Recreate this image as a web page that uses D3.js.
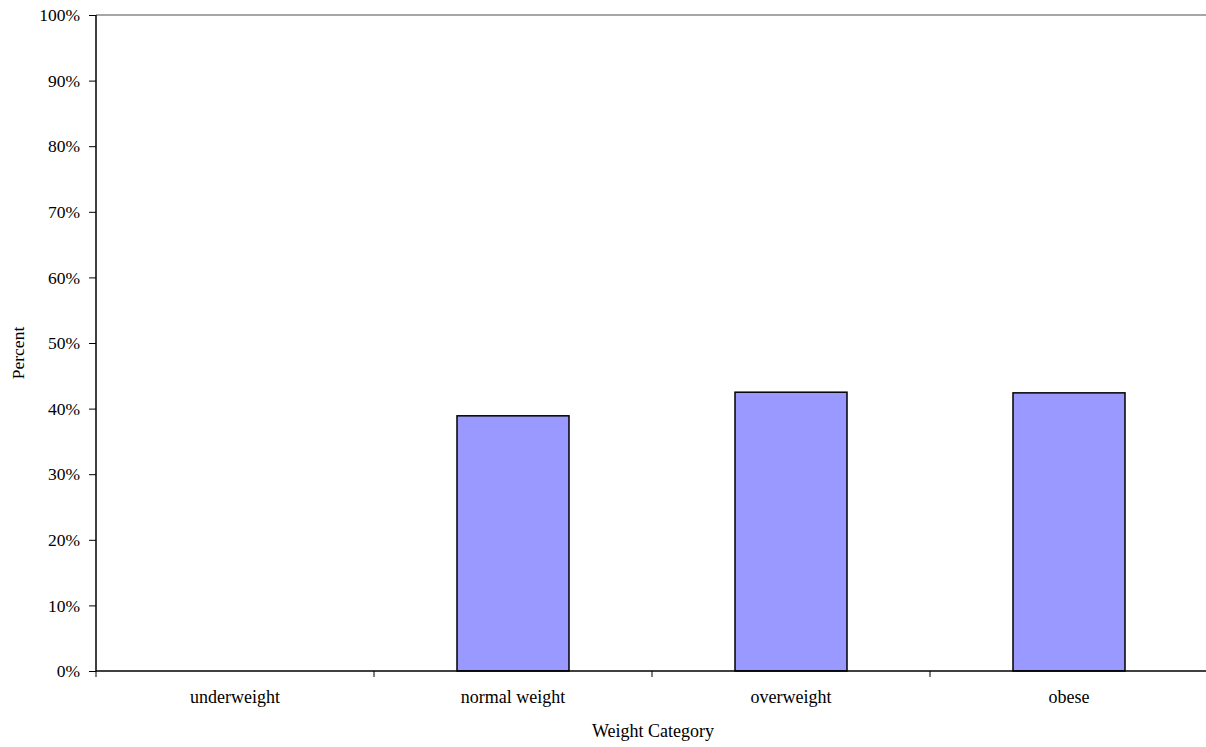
<!DOCTYPE html>
<html>
<head>
<meta charset="utf-8">
<script src="https://cdn.jsdelivr.net/npm/d3@7"></script>
<style>
  body { margin: 0; background: #fff; }
  svg text { font-family: "Times New Roman", "Liberation Serif", "DejaVu Serif", serif !important; fill: #000; }
</style>
</head>
<body>
<script>
// 数据
var categories = ["underweight", "normal weight", "overweight", "obese"];
var percents = [0, 38.9, 42.5, 42.4];
var yTicks = [0, 10, 20, 30, 40, 50, 60, 70, 80, 90, 100];

var width = 1206;
var height = 747;
var padding = { top: 15, right: -2, bottom: 76, left: 96 };
var fontFamily = "'Times New Roman', 'Liberation Serif', 'DejaVu Serif', serif";

var svg = d3.select("body")
  .append("svg")
  .attr("width", width)
  .attr("height", height)
  .attr("font-family", fontFamily);

var x = d3.scaleBand()
  .domain(categories)
  .range([padding.left, width - padding.right])
  .paddingInner(0)
  .paddingOuter(0);

var y = d3.scaleLinear()
  .domain([0, 100])
  .range([height - padding.bottom, padding.top]);

// 顶部灰线
svg.append("line")
  .attr("x1", padding.left)
  .attr("x2", width)
  .attr("y1", y(100))
  .attr("y2", y(100))
  .attr("stroke", "#888")
  .attr("stroke-width", 1.5);

// 柱子
var barWidth = 112;
svg.selectAll("rect.bar")
  .data(percents)
  .enter()
  .append("rect")
  .attr("class", "bar")
  .attr("fill", "#9999ff")
  .attr("stroke", "#000")
  .attr("stroke-width", 1.5)
  .attr("x", function (d, i) {
    return x(categories[i]) + (x.bandwidth() - barWidth) / 2;
  })
  .attr("y", function (d) { return y(d); })
  .attr("width", barWidth)
  .attr("height", function (d) { return y(0) - y(d); })
  .style("display", function (d) { return d > 0 ? null : "none"; });

// y 轴
var yAxis = d3.axisLeft(y)
  .tickValues(yTicks)
  .tickSize(7)
  .tickPadding(9)
  .tickFormat(function (d) { return d + "%"; });

var gy = svg.append("g")
  .attr("transform", "translate(" + padding.left + ",0)")
  .call(yAxis)
  .attr("font-family", fontFamily)
  .attr("font-size", "17.5px");
gy.select(".domain").attr("stroke", "#000").attr("stroke-width", 1.5)
  .attr("d", "M0," + y(0) + "V" + y(100));
gy.selectAll(".tick line").attr("stroke", "#000");
gy.selectAll(".tick text").attr("font-size", "17.5px");

// x 轴
var gx = svg.append("g")
  .attr("transform", "translate(0," + y(0) + ")");
gx.append("line")
  .attr("x1", padding.left)
  .attr("x2", width)
  .attr("stroke", "#000")
  .attr("stroke-width", 1.5);
gx.selectAll("line.tick")
  .data(categories)
  .enter()
  .append("line")
  .attr("class", "tick")
  .attr("x1", function (d) { return x(d); })
  .attr("x2", function (d) { return x(d); })
  .attr("y1", 0)
  .attr("y2", 6)
  .attr("stroke", "#000");
gx.selectAll("text")
  .data(categories)
  .enter()
  .append("text")
  .attr("x", function (d) { return x(d) + x.bandwidth() / 2; })
  .attr("y", 32)
  .attr("text-anchor", "middle")
  .attr("font-size", "18px")
  .text(function (d) { return d; });

// 轴标题
svg.append("text")
  .attr("x", (padding.left + width) / 2 + 2)
  .attr("y", 737)
  .attr("text-anchor", "middle")
  .attr("font-size", "18px")
  .text("Weight Category");

svg.append("text")
  .attr("transform", "translate(24," + (y(50) + 10) + ") rotate(-90)")
  .attr("text-anchor", "middle")
  .attr("font-size", "17.5px")
  .text("Percent");
</script>
</body>
</html>
